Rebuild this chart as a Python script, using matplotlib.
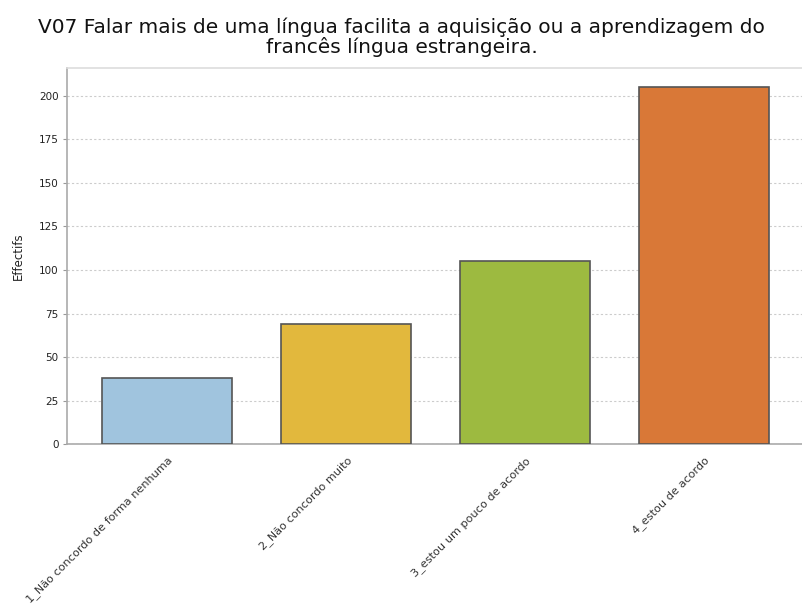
import matplotlib
matplotlib.use("Agg")
import matplotlib.pyplot as plt

categories = ["1_Não concordo de forma nenhuma", "2_Não concordo muito",
              "3_estou um pouco de acordo", "4_estou de acordo"]
values = [38, 69, 105, 205]
colors = ["#a0c4de", "#e2b83d", "#9dba40", "#d97837"]
yticks = [0, 25, 50, 75, 100, 125, 150, 175, 200]
title = "V07 Falar mais de uma língua facilita a aquisição ou a aprendizagem do\nfrancês língua estrangeira."
ylabel = "Effectifs"

fig = plt.figure(figsize=(8.03, 6.10), dpi=100)
ax = fig.add_axes([0.0834, 0.272, 0.916, 0.6165])

x = list(range(len(categories)))
ax.bar(x, values, width=0.725, color=colors, edgecolor="#555555", linewidth=1.2, zorder=3)
ax.set_xlim(-0.56, 3.55)
ax.set_ylim(0, 216)
ax.set_yticks(yticks)
ax.set_yticklabels([str(t) for t in yticks], fontsize=7.5, color="#222222")
ax.yaxis.grid(True, linestyle=(0, (2, 2)), color="#cccccc", linewidth=0.8, zorder=0)
ax.set_xticks(x)
ax.set_xticklabels(categories, rotation=45, ha="right", rotation_mode="anchor",
                   fontsize=8.1, color="#333333")
ax.tick_params(axis="x", length=0, pad=8)
ax.tick_params(axis="y", length=3, color="#999999", pad=3)
for s in ["left", "bottom", "top"]:
    ax.spines[s].set_color("#aaaaaa")
    ax.spines[s].set_linewidth(1.2)
ax.spines["top"].set_color("#dddddd")
ax.spines["right"].set_visible(False)
ax.set_ylabel(ylabel, fontsize=8.5, color="#222222", labelpad=10)
fig.text(0.5, 0.939, title, ha="center", va="center", fontsize=14.5, color="#111111", linespacing=1.0)

fig.savefig("out.png", dpi=100)
